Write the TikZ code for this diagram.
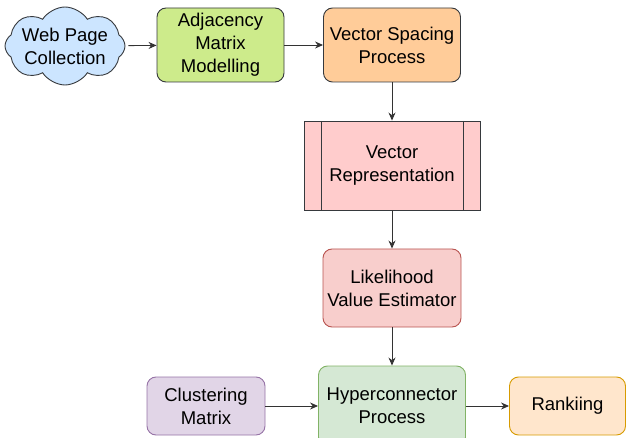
\documentclass[tikz,border=0pt]{standalone}
\usepackage{fontspec}
\setmainfont{Liberation Sans}
\usetikzlibrary{arrows.meta,shapes.symbols}

\definecolor{darkline}{HTML}{36393D}
\definecolor{cloudblue}{HTML}{CCE5FF}
\definecolor{adjgreen}{HTML}{CDEB8B}
\definecolor{spaceorange}{HTML}{FFCC99}
\definecolor{reppink}{HTML}{FFCCCC}
\definecolor{likfill}{HTML}{F8CECC}
\definecolor{likline}{HTML}{B85450}
\definecolor{hypfill}{HTML}{D5E8D4}
\definecolor{hypline}{HTML}{82B366}
\definecolor{clufill}{HTML}{E1D5E7}
\definecolor{cluline}{HTML}{9673A6}
\definecolor{rankfill}{HTML}{FFE6CC}
\definecolor{rankline}{HTML}{D79B00}

\begin{document}
\begin{tikzpicture}[x=1pt,y=-1pt,
  txt/.style={align=center,inner sep=0pt,line width=0.9pt,font=\fontsize{18.5}{23}\selectfont},
  box/.style={txt,rounded corners=9pt},
  arr/.style={-{Stealth[length=8pt,width=7pt]},line width=0.9pt,black!80}]
  \useasboundingbox (0,0) rectangle (626,438);

  \node[txt,cloud,cloud puffs=8,cloud puff arc=115,cloud ignores aspect,
        inner xsep=-12pt,inner ysep=-4pt,draw=darkline,fill=cloudblue,
        minimum width=120pt,minimum height=78pt] (web) at (65,46) {Web Page\\Collection};
  \node[box,draw=darkline,fill=adjgreen,minimum width=127pt,minimum height=74pt]
        (adj) at (220.5,45) {Adjacency\\Matrix\\Modelling};
  \node[box,draw=darkline,fill=spaceorange,minimum width=137pt,minimum height=74pt]
        (vsp) at (392,45) {Vector Spacing\\Process};

  \node[txt,draw=darkline,fill=reppink,minimum width=176pt,minimum height=89pt,
        path picture={
          \draw[darkline,line width=1pt]
            ([xshift=17pt]path picture bounding box.north west) --
            ([xshift=17pt]path picture bounding box.south west);
          \draw[darkline,line width=1pt]
            ([xshift=-17pt]path picture bounding box.north east) --
            ([xshift=-17pt]path picture bounding box.south east);}]
        (vrep) at (392,165.5) {Vector\\Representation};

  \node[box,draw=likline,fill=likfill,minimum width=138pt,minimum height=78pt]
        (lik) at (392,288) {Likelihood\\Value Estimator};
  \node[box,draw=hypline,fill=hypfill,minimum width=147pt,minimum height=80pt]
        (hyp) at (392,406) {Hyperconnector\\Process};
  \node[box,draw=cluline,fill=clufill,minimum width=118pt,minimum height=58pt]
        (clu) at (206,406) {Clustering\\Matrix};
  \node[box,draw=rankline,fill=rankfill,minimum width=116pt,minimum height=58pt]
        (rank) at (567.5,406) {Rankiing};

  \draw[arr,shorten <=3pt] (web) -- (adj);
  \draw[arr] (adj) -- (vsp);
  \draw[arr] (vsp) -- (vrep);
  \draw[arr] (vrep) -- (lik);
  \draw[arr] (lik) -- (hyp);
  \draw[arr] (clu) -- (hyp);
  \draw[arr] (hyp) -- (rank);
\end{tikzpicture}
\end{document}
